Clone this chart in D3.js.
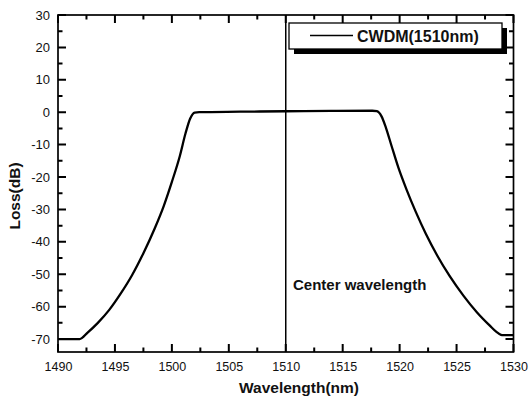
<!DOCTYPE html>
<html>
<head>
<meta charset="utf-8">
<script src="https://cdn.jsdelivr.net/npm/d3@7"></script>
<style>
  html, body { margin: 0; padding: 0; background: #fff; }
  svg { display: block; font-family: "Liberation Sans", Arial, sans-serif; }
</style>
</head>
<body>
<svg id="chart" width="530" height="398"></svg>
<script>
// ---- data ----
const wavelength = [1490, 1491.9, 1492.6, 1493.5, 1494.5, 1495.5, 1496.5, 1497.5, 1498.5, 1499.3,
  1500.0, 1500.7, 1501.2, 1501.6, 1502.0, 1502.4, 1506, 1510, 1514, 1517.6,
  1518.0, 1518.4, 1518.8, 1519.3, 1519.9, 1520.6, 1521.4, 1522.3, 1523.3, 1524.4,
  1525.6, 1526.8, 1527.9, 1528.5, 1528.9, 1529.1, 1530];
const loss = [-70, -70, -68, -65, -61, -56, -50.3, -43.5, -35.8, -28.8,
  -21.5, -13.5, -6.5, -2, -0.1, 0, 0.15, 0.3, 0.4, 0.45,
  0.3, -1.2, -4.8, -10.5, -17.2, -23.8, -30.6, -37.5, -44.2, -50.6,
  -56.6, -61.8, -65.8, -67.8, -68.7, -68.8, -68.8];
const xMajorTicks = [1490, 1495, 1500, 1505, 1510, 1515, 1520, 1525, 1530];
const xMinorTicks = [1492.5, 1497.5, 1502.5, 1507.5, 1512.5, 1517.5, 1522.5, 1527.5];
const yMajorTicks = [30, 20, 10, 0, -10, -20, -30, -40, -50, -60, -70];
const yMinorTicks = [25, 15, 5, -5, -15, -25, -35, -45, -55, -65];
const centerWavelength = 1510;
const seriesName = "CWDM(1510nm)";
const centerLabel = "Center wavelength";
const xTitle = "Wavelength(nm)";
const yTitle = "Loss(dB)";

// ---- layout ----
const L = 58, R = 513.5, T = 15, B = 352;
const svg = d3.select("#chart");
const x = d3.scaleLinear().domain([1490, 1530]).range([L, R]);
const y = d3.scaleLinear().domain([-74, 30]).range([B, T]);
const MAJ = 8, MIN = 4.5;
const fmt = d => String(d); // plain hyphen-minus like the reference

// tick labels via d3 axes
svg.append("g").attr("transform", `translate(0,${B})`)
  .call(d3.axisBottom(x).tickValues(xMajorTicks).tickSize(0).tickPadding(10).tickFormat(fmt))
  .call(g => g.select(".domain").remove())
  .call(g => g.selectAll("text").attr("font-size", "12.5px").attr("fill", "#111")
      .attr("font-family", "Liberation Sans, Arial, sans-serif"));
svg.append("g").attr("transform", `translate(${L},0)`)
  .call(d3.axisLeft(y).tickValues(yMajorTicks).tickSize(0).tickPadding(8).tickFormat(fmt))
  .call(g => g.select(".domain").remove())
  .call(g => g.selectAll("text").attr("font-size", "13px").attr("fill", "#111")
      .attr("font-family", "Liberation Sans, Arial, sans-serif"));

// inward tick marks on all four sides, as one path
const xt = xMajorTicks.map(v => [v, MAJ]).concat(xMinorTicks.map(v => [v, MIN]));
const yt = yMajorTicks.map(v => [v, MAJ]).concat(yMinorTicks.map(v => [v, MIN]));
const p = d3.path();
xt.forEach(([v, len]) => {
  const px = x(v);
  p.moveTo(px, B); p.lineTo(px, B - len);
  p.moveTo(px, T); p.lineTo(px, T + len);
});
yt.forEach(([v, len]) => {
  const py = y(v);
  p.moveTo(L, py); p.lineTo(L + len, py);
  p.moveTo(R, py); p.lineTo(R - len, py);
});
svg.append("path").attr("d", p.toString())
  .attr("fill", "none").attr("stroke", "#000").attr("stroke-width", 2);

// frame
svg.append("rect").attr("x", L).attr("y", T).attr("width", R - L).attr("height", B - T)
  .attr("fill", "none").attr("stroke", "#000").attr("stroke-width", 1.7);

// center line
svg.append("line")
  .attr("x1", x(centerWavelength)).attr("x2", x(centerWavelength))
  .attr("y1", T).attr("y2", B)
  .attr("stroke", "#000").attr("stroke-width", 1.5);

// curve
const pts = wavelength.map((w, i) => [w, loss[i]]);
svg.append("path").datum(pts)
  .attr("fill", "none").attr("stroke", "#000").attr("stroke-width", 2.3)
  .attr("stroke-linejoin", "round")
  .attr("d", d3.line().x(d => x(d[0])).y(d => y(d[1])).curve(d3.curveMonotoneX));

// legend
const lg = svg.append("g");
lg.append("rect").attr("x", 294).attr("y", 28).attr("width", 213).attr("height", 26).attr("fill", "#000");
lg.append("rect").attr("x", 289).attr("y", 23).attr("width", 213).attr("height", 26)
  .attr("fill", "#fff").attr("stroke", "#000").attr("stroke-width", 1.3);
lg.append("line").attr("x1", 310).attr("x2", 353).attr("y1", 35.5).attr("y2", 35.5)
  .attr("stroke", "#000").attr("stroke-width", 1.5);
lg.append("text").attr("x", 357).attr("y", 41.5).attr("font-size", "16px").attr("font-weight", "bold")
  .attr("fill", "#111").text(seriesName);

// center label
svg.append("text").attr("x", 293).attr("y", 290).attr("font-size", "15px").attr("font-weight", "bold")
  .attr("fill", "#111").text(centerLabel);

// axis titles
svg.append("text").attr("x", 299).attr("y", 393).attr("text-anchor", "middle")
  .attr("font-size", "15.5px").attr("font-weight", "bold").attr("fill", "#111").text(xTitle);
svg.append("text").attr("transform", "translate(19.5,196) rotate(-90)").attr("text-anchor", "middle")
  .attr("font-size", "15.5px").attr("font-weight", "bold").attr("fill", "#111").text(yTitle);
</script>
</body>
</html>
